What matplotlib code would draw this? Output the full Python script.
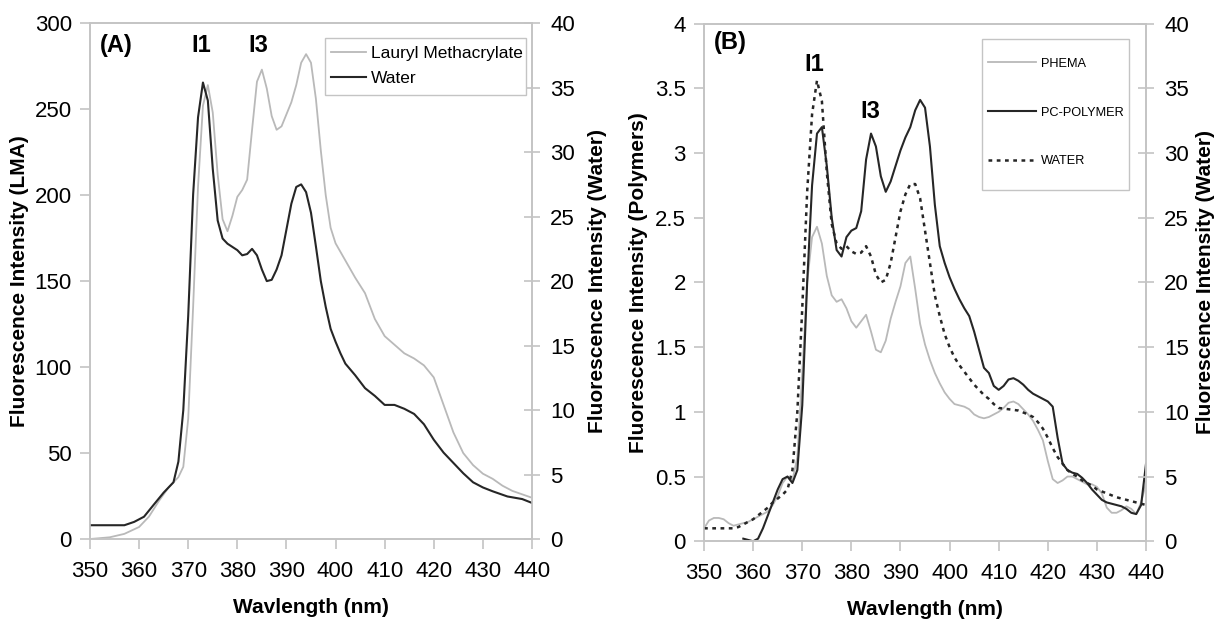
import numpy as np
import matplotlib
matplotlib.use("Agg")
import matplotlib.pyplot as plt
from matplotlib.patches import Rectangle

plt.rcParams['font.family'] = ['Liberation Sans', 'DejaVu Sans']

# ---- panel A: lauryl methacrylate (left axis) vs water (right axis)
wl_lma = [350, 354, 357, 360, 362, 364, 366, 368, 369, 370, 371, 372, 373, 374,
          375, 376, 377, 378, 379, 380, 381, 382, 383, 384, 385, 386, 387, 388,
          389, 390, 391, 392, 393, 394, 395, 396, 397, 398, 399, 400, 402, 404,
          406, 408, 410, 412, 414, 416, 418, 420, 422, 424, 426, 428, 430, 432,
          434, 436, 438, 440]
lma = [0, 1, 3, 7, 13, 22, 30, 36, 42, 70, 135, 205, 252, 264,
       248, 212, 186, 179, 188, 199, 203, 209, 238, 266, 273, 262, 246, 238,
       240, 247, 254, 264, 277, 282, 277, 256, 226, 200, 181, 172, 162, 152,
       143, 128, 118, 113, 108, 105, 101, 94, 78, 62, 50, 43, 38, 35,
       31, 28, 26, 24]

wl_water_a = [350, 357, 359, 361, 363, 365, 367, 368, 369, 370, 371, 372, 373,
              374, 375, 376, 377, 378, 380, 381, 382, 383, 384, 385, 386, 387,
              388, 389, 390, 391, 392, 393, 394, 395, 396, 397, 398, 399, 400,
              401, 402, 404, 406, 408, 410, 412, 414, 416, 418, 420, 422, 424,
              426, 428, 430, 432, 435, 438, 440]
water_a = [1.07, 1.07, 1.33, 1.73, 2.67, 3.6, 4.4, 6.0, 10.0, 17.3, 26.7, 32.7, 35.4,
           34.0, 28.7, 24.7, 23.3, 22.9, 22.4, 22.0, 22.1, 22.5, 22.0, 20.9, 20.0, 20.1,
           20.9, 22.0, 24.0, 26.0, 27.3, 27.5, 26.9, 25.3, 22.7, 20.0, 18.0, 16.3, 15.3,
           14.4, 13.6, 12.7, 11.7, 11.1, 10.4, 10.4, 10.1, 9.7, 8.9, 7.7, 6.7, 5.9,
           5.1, 4.4, 4.0, 3.7, 3.3, 3.1, 2.8]

# ---- panel B: PHEMA and PC-polymer (left axis) vs water (right axis)
wl_phema = list(range(350, 441))
phema = [0.10, 0.16, 0.18, 0.18, 0.17, 0.14, 0.12, 0.13, 0.14, 0.15,
         0.17, 0.19, 0.21, 0.23, 0.28, 0.35, 0.45, 0.50, 0.47, 0.65,
         1.30, 2.00, 2.35, 2.43, 2.30, 2.05, 1.90, 1.85, 1.87, 1.80,
         1.70, 1.65, 1.70, 1.75, 1.62, 1.48, 1.46, 1.55, 1.72, 1.85,
         1.97, 2.15, 2.20, 1.95, 1.68, 1.52, 1.40, 1.30, 1.22, 1.15,
         1.10, 1.06, 1.05, 1.04, 1.02, 0.98, 0.96, 0.95, 0.96, 0.98,
         1.00, 1.03, 1.07, 1.08, 1.06, 1.02, 0.98, 0.93, 0.86, 0.78,
         0.62, 0.48, 0.45, 0.47, 0.50, 0.50, 0.48, 0.46, 0.44, 0.44,
         0.42, 0.37, 0.26, 0.22, 0.22, 0.24, 0.27, 0.25, 0.21, 0.30,
         0.45]

wl_pc = list(range(358, 441))
pc = [0.02, 0.01, 0.00, 0.02, 0.10, 0.20, 0.30, 0.40, 0.48, 0.50,
      0.45, 0.55, 1.05, 2.00, 2.75, 3.15, 3.20, 2.90, 2.50, 2.25,
      2.20, 2.35, 2.40, 2.42, 2.55, 2.95, 3.15, 3.05, 2.82, 2.70,
      2.78, 2.90, 3.02, 3.12, 3.20, 3.33, 3.41, 3.35, 3.05, 2.60,
      2.28, 2.15, 2.04, 1.95, 1.87, 1.80, 1.74, 1.62, 1.48, 1.34,
      1.30, 1.20, 1.17, 1.20, 1.25, 1.26, 1.24, 1.21, 1.17, 1.14,
      1.12, 1.10, 1.08, 1.04, 0.80, 0.60, 0.55, 0.53, 0.52, 0.49,
      0.45, 0.40, 0.36, 0.32, 0.30, 0.29, 0.28, 0.27, 0.25, 0.22,
      0.21, 0.28, 0.60]

wl_water_b = [350, 356, 357, 358, 359, 360, 361, 362, 363, 364, 365, 366, 367,
              368, 369, 370, 371, 372, 373, 374, 375, 376, 377, 378, 379, 380,
              381, 382, 383, 384, 385, 386, 387, 388, 389, 390, 391, 392, 393,
              394, 395, 396, 397, 398, 399, 400, 401, 402, 403, 404, 405, 406,
              407, 408, 409, 410, 412, 414, 416, 417, 418, 419, 420, 421, 422,
              423, 424, 425, 426, 427, 428, 429, 430, 432, 434, 436, 438, 440]
water_b = [1.0, 1.0, 1.1, 1.3, 1.5, 1.7, 2.0, 2.3, 2.6, 3.0, 3.3, 3.6, 4.0,
           5.5, 10.0, 18.0, 27.0, 33.0, 35.6, 34.0, 28.5, 24.5, 23.0, 22.6, 22.8, 22.4,
           22.2, 22.3, 22.8, 22.0, 20.6, 20.0, 20.2, 21.5, 23.5, 25.5, 26.8, 27.6, 27.6,
           26.5, 24.0, 21.5, 19.0, 17.4, 16.0, 15.0, 14.2, 13.6, 13.1, 12.6, 12.1, 11.7,
           11.3, 11.0, 10.6, 10.3, 10.2, 10.1, 9.8, 9.6, 9.2, 8.7, 8.0, 7.2, 6.5,
           6.0, 5.5, 5.2, 5.0, 4.7, 4.5, 4.3, 4.0, 3.7, 3.4, 3.2, 3.0, 2.8]

light = '#b9b9b9'
dark = '#262626'
spine_col = '#c4c4c4'
tick_fs = 16
lab_fs = 15
note_fs = 17


def style_axes(ax, ax2):
    for a in (ax, ax2):
        for s in a.spines.values():
            s.set_color(spine_col)
            s.set_linewidth(1.2)
    ax.tick_params(axis='both', colors=spine_col, labelcolor='black',
                   labelsize=tick_fs, direction='out', length=7, width=1.2)
    ax.tick_params(axis='y', pad=6)
    ax.tick_params(axis='x', pad=9)
    ax2.tick_params(axis='y', colors=spine_col, labelcolor='black',
                    labelsize=tick_fs, direction='inout', length=12, width=1.2, pad=7)
    ax.set_xlim(350, 440)
    ax.set_xticks(np.arange(350, 441, 10))
    ax.set_xlabel('Wavlength (nm)', fontsize=lab_fs, fontweight='bold', labelpad=11)


def box(ax, x0, y0, x1, y1):
    ax.add_patch(Rectangle((x0, y0), x1 - x0, y1 - y0, transform=ax.transAxes,
                           facecolor='white', edgecolor=spine_col, lw=1.0, zorder=4))


fig = plt.figure(figsize=(12.21, 6.2), dpi=100)

# ---------------- (A)
axA = fig.add_axes([0.0737, 0.1306, 0.362, 0.832])
axA2 = axA.twinx()
l1, = axA.plot(wl_lma, lma, color=light, lw=1.3, label='Lauryl Methacrylate')
l2, = axA2.plot(wl_water_a, water_a, color=dark, lw=1.5, label='Water')
axA.set_ylim(0, 300)
axA.set_yticks(np.arange(0, 301, 50))
axA2.set_ylim(0, 40)
axA2.set_yticks(np.arange(0, 41, 5))
style_axes(axA, axA2)
axA.set_ylabel('Fluorescence Intensity (LMA)', fontsize=lab_fs, fontweight='bold')
axA.yaxis.set_label_coords(-0.139, 0.5)
axA2.set_ylabel('Fluorescence Intensity (Water)', fontsize=lab_fs, fontweight='bold')
axA2.yaxis.set_label_coords(1.127, 0.5)
box(axA2, 0.532, 0.860, 0.986, 0.972)
leg = axA2.legend(handles=[l1, l2], loc='center left', bbox_to_anchor=(0.545, 0.917),
                  fontsize=12.5, frameon=False, handlelength=2.0,
                  handletextpad=0.3, borderpad=0, labelspacing=0.55,
                  borderaxespad=0)
leg.set_zorder(5)
axA2.text(352, 40 * 287 / 300, '(A)', fontsize=note_fs, fontweight='bold', va='center')
axA2.text(372.6, 40 * 287 / 300, 'I1', fontsize=note_fs, fontweight='bold', va='center', ha='center')
axA2.text(384.3, 40 * 287 / 300, 'I3', fontsize=note_fs, fontweight='bold', va='center', ha='center')

# ---------------- (B)
axB = fig.add_axes([0.5766, 0.127, 0.362, 0.835])
axB2 = axB.twinx()
p1, = axB.plot(wl_phema, phema, color=light, lw=1.3, label='PHEMA')
p2, = axB.plot(wl_pc, pc, color=dark, lw=1.5, label='PC-POLYMER')
p3, = axB2.plot(wl_water_b, water_b, color=dark, lw=1.8, linestyle=(0, (1.5, 1.8)),
                label='WATER')
axB.set_ylim(0, 4)
axB.set_yticks(np.arange(0, 4.01, 0.5))
axB.set_yticklabels(['0', '0.5', '1', '1.5', '2', '2.5', '3', '3.5', '4'])
axB2.set_ylim(0, 40)
axB2.set_yticks(np.arange(0, 41, 5))
style_axes(axB, axB2)
axB.set_ylabel('Fluorescence Intensity (Polymers)', fontsize=lab_fs, fontweight='bold')
axB.yaxis.set_label_coords(-0.127, 0.5)
axB2.set_ylabel('Fluorescence Intensity (Water)', fontsize=lab_fs, fontweight='bold')
axB2.yaxis.set_label_coords(1.114, 0.5)
box(axB2, 0.628, 0.679, 0.961, 0.971)
legB = axB2.legend(handles=[p1, p2, p3], loc='center left', bbox_to_anchor=(0.642, 0.828),
                   fontsize=9.2, frameon=False, handlelength=3.8,
                   handletextpad=0.38, borderpad=0, labelspacing=2.88,
                   borderaxespad=0)
legB.set_zorder(5)
axB.text(352, 3.85, '(B)', fontsize=note_fs, fontweight='bold', va='center')
axB.text(372.5, 3.68, 'I1', fontsize=note_fs, fontweight='bold', va='center', ha='center')
axB.text(383.8, 3.32, 'I3', fontsize=note_fs, fontweight='bold', va='center', ha='center')

fig.savefig('out.png', dpi=100)
